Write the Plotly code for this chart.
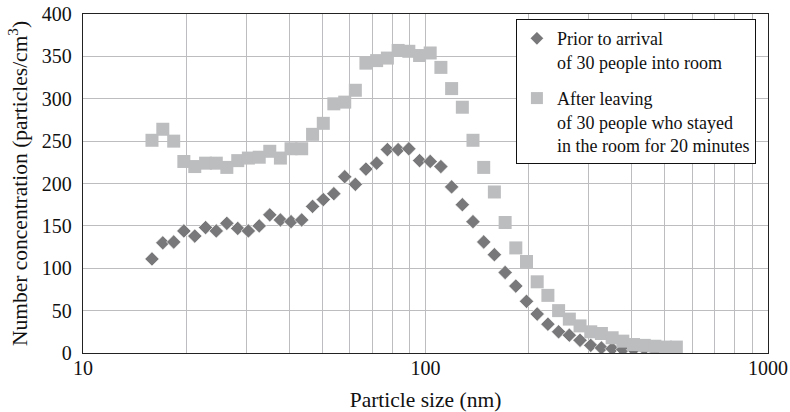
import plotly.graph_objects as go

# Particle size channels (nm)
size_nm = [15.9, 17.1, 18.4, 19.7, 21.2, 22.8, 24.5, 26.3, 28.3, 30.4,
           32.7, 35.1, 37.7, 40.5, 43.5, 46.8, 50.3, 54.0, 58.1, 62.4,
           67.0, 72.0, 77.4, 83.2, 89.4, 96.1, 103.2, 110.9, 119.2, 128.1,
           137.6, 147.9, 158.9, 170.8, 183.5, 197.2, 211.9, 227.7, 244.7, 263.0,
           282.6, 303.7, 326.3, 350.7, 376.8, 404.9, 435.1, 467.6, 502.5, 540.0]

# Prior to arrival of 30 people into room
prior = [111, 130, 131, 144, 138, 148, 144, 153, 147, 144,
         150, 163, 157, 155, 157, 173, 181, 188, 208, 199,
         217, 224, 240, 240, 241, 227, 226, 220, 196, 175,
         155, 131, 116, 95, 79, 61, 46, 34, 25, 21,
         15, 9, 6, 5, 4, 4, 5, 3, 3]

# After leaving of 30 people who stayed in the room for 20 minutes
after = [251, 264, 250, 226, 220, 224, 224, 219, 227, 230,
         231, 238, 230, 241, 241, 258, 271, 294, 296, 310,
         342, 345, 348, 357, 356, 351, 354, 337, 312, 290,
         251, 219, 190, 154, 124, 108, 84, 68, 50, 40,
         32, 25, 23, 18, 14, 10, 9, 8, 7, 7]

x_tickvals = [10, 100, 1000]
x_ticktext = ["10", "100", "1000"]
x_minor_grid = [20, 30, 40, 50, 60, 70, 80, 90,
                200, 300, 400, 500, 600, 700, 800, 900]
y_tickvals = [0, 50, 100, 150, 200, 250, 300, 350, 400]

FONT = "Liberation Serif"
DARK = "#78787a"
LIGHT = "#bcbdbf"
GRID = "#bdbdbf"

fig = go.Figure()
fig.add_trace(go.Scatter(
    x=size_nm[:len(prior)], y=prior, mode="markers",
    name="Prior to arrival<br>of 30 people into room",
    legendgroup="a",
    marker=dict(symbol="diamond", size=11, color=DARK,
                line=dict(color="white", width=0.6)),
))
fig.add_trace(go.Scatter(
    x=size_nm[:len(after)], y=after, mode="markers",
    name="After leaving<br>of 30 people who stayed<br>in the room for 20 minutes",
    legendgroup="b",
    marker=dict(symbol="square", size=13, color=LIGHT, line=dict(width=0)),
))

fig.update_layout(
    width=790, height=412,
    margin=dict(l=83, r=22, t=14, b=59, autoexpand=False),
    paper_bgcolor="white", plot_bgcolor="white",
    font=dict(family=FONT, size=20, color="#111"),
    showlegend=True,
    legend=dict(
        x=0.632, y=0.985, xanchor="left", yanchor="top",
        bgcolor="white", bordercolor="#111", borderwidth=1,
        font=dict(family=FONT, size=18, color="#111"),
        valign="top", tracegroupgap=10, traceorder="grouped",
        itemsizing="constant",
    ),
    xaxis=dict(
        type="log", range=[1, 3],
        tickvals=x_tickvals, ticktext=x_ticktext, tickangle=0,
        showgrid=True, gridcolor=GRID, gridwidth=1.3,
        minor=dict(tickvals=x_minor_grid, showgrid=True,
                   gridcolor=GRID, gridwidth=1.3, ticks=""),
        showline=True, linecolor="#222", linewidth=1.3, mirror=True,
        ticks="", ticklabelstandoff=-3, automargin=False,
        tickfont=dict(size=20),
        title=dict(text="Particle size (nm)", font=dict(size=21.5), standoff=16),
        zeroline=False,
    ),
    yaxis=dict(
        range=[0, 400], tickvals=y_tickvals,
        showgrid=True, gridcolor=GRID, gridwidth=1.3,
        showline=True, linecolor="#222", linewidth=1.3, mirror=True,
        ticks="", ticklabelstandoff=6, automargin=False,
        tickfont=dict(size=20),
        title=dict(text="Number concentration (particles/cm<sup>3</sup>)",
                   font=dict(size=21.5), standoff=8),
        zeroline=False,
    ),
)

fig.write_html("out.html")
